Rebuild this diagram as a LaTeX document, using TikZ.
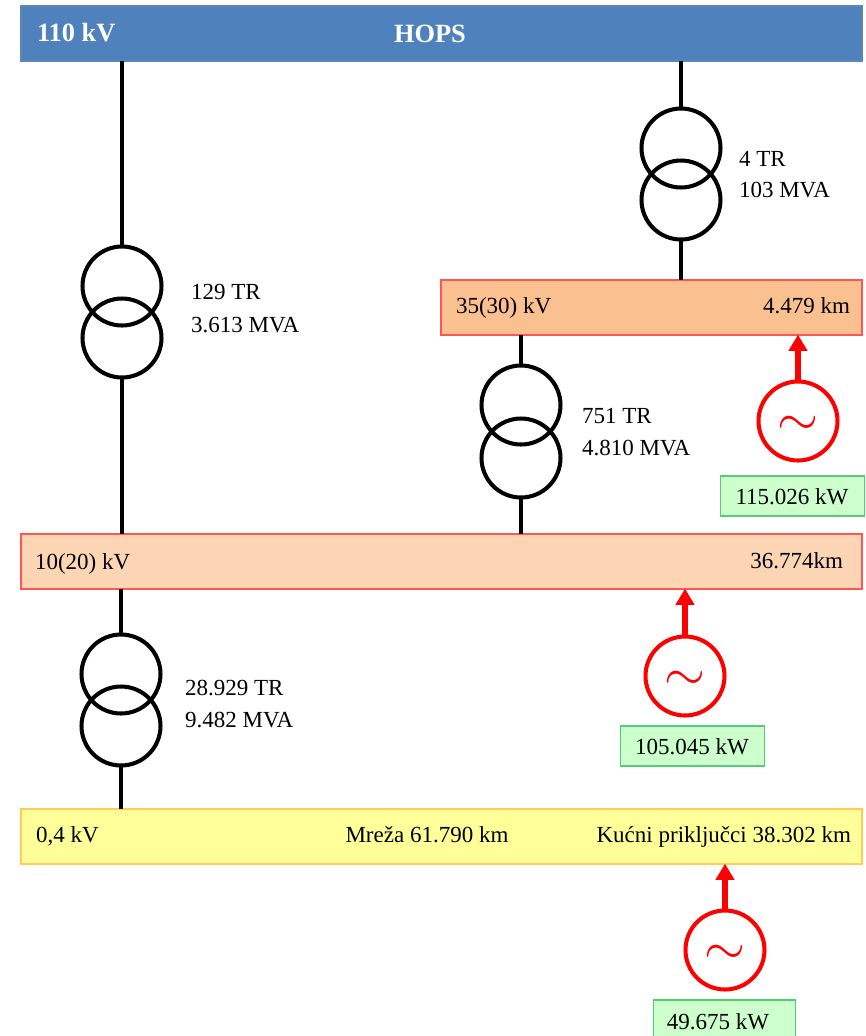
\documentclass[tikz,border=0pt]{standalone}
\usepackage{fontspec}
\setmainfont{Liberation Serif}
\usetikzlibrary{arrows.meta}
\definecolor{hopsblue}{HTML}{4F81BD}
\definecolor{hopsedge}{HTML}{5A86B8}
\definecolor{mvfill}{HTML}{FAC090}
\definecolor{lvfill}{HTML}{FCD5B5}
\definecolor{busred}{HTML}{FF5555}
\definecolor{yfill}{HTML}{FFFF99}
\definecolor{yedge}{HTML}{FFCC55}
\definecolor{gfill}{HTML}{CCFFCC}
\definecolor{gedge}{HTML}{55CC77}
\tikzset{%
	bus/.style={draw,line width=0.9pt,minimum height=1.09cm,inner sep=0,outer sep=0},
	coil/.style={circle,draw,line width=2.3pt,minimum size=1.58cm,inner sep=0,outer sep=0},
	gen/.style={circle,draw=red,line width=2.3pt,minimum size=1.58cm,inner sep=0,outer sep=0},
	sine/.style={red,scale=3,inner sep=0,outer sep=0},
	power/.style={draw=gedge,fill=gfill,line width=0.9pt,minimum height=0.81cm,inner sep=0,outer sep=0},
	lbl/.style={font=\fontsize{13.1}{13.1}\selectfont,inner sep=0,outer sep=0},
	head/.style={font=\fontsize{15}{15}\selectfont\bfseries,text=white,inner sep=0,outer sep=0},
	wire/.style={line width=2.5pt},
	feed/.style={red,line width=3.1pt,-{Triangle[length=0.32cm,width=0.36cm]}}
}

\begin{document}
\begin{tikzpicture}[x=0.02cm,y=-0.02cm]
		\useasboundingbox (0,0) rectangle (866,1036);
		\clip (0,0) rectangle (866,1036);

		% busbars
		\node [bus,draw=hopsedge,fill=hopsblue,minimum width=16.82cm] (hops) at (441.5,33.5) {};
		\node [bus,draw=busred,fill=mvfill,minimum width=8.42cm] (bus35) at (651.5,307.5) {};
		\node [bus,draw=busred,fill=lvfill,minimum width=16.82cm] (bus10) at (441.5,561.5) {};
		\node [bus,draw=yedge,fill=yfill,minimum width=16.82cm] (bus04) at (441.5,836.5) {};

		% transformers
		\node [coil] (tr1a) at (122,286) {};
		\node [coil] (tr1b) at (122,338) {};
		\node [coil] (tr2a) at (681,148) {};
		\node [coil] (tr2b) at (681,200) {};
		\node [coil] (tr3a) at (521,405) {};
		\node [coil] (tr3b) at (521,458) {};
		\node [coil] (tr4a) at (121,674) {};
		\node [coil] (tr4b) at (121,726) {};

		\draw [wire] (hops.south -| tr1a.north)--(tr1a.north);
		\draw [wire] (tr1b.south)--(bus10.north -| tr1b.south);
		\draw [wire] (hops.south -| tr2a.north)--(tr2a.north);
		\draw [wire] (tr2b.south)--(bus35.north -| tr2b.south);
		\draw [wire] (bus35.south -| tr3a.north)--(tr3a.north);
		\draw [wire] (tr3b.south)--(bus10.north -| tr3b.south);
		\draw [wire] (bus10.south -| tr4a.north)--(tr4a.north);
		\draw [wire] (tr4b.south)--(bus04.north -| tr4b.south);

		% generators
		\node [gen] (gen1) at (798,421) {};
		\node [gen] (gen2) at (685,676) {};
		\node [gen] (gen3) at (725,950) {};
		\node [sine] (sin1) at (798,426) {$\sim$};
		\node [sine] (sin2) at (685,681) {$\sim$};
		\node [sine] (sin3) at (725,955) {$\sim$};

		\draw [feed] (gen1.north)--(bus35.south -| gen1.north);
		\draw [feed] (gen2.north)--(bus10.south -| gen2.north);
		\draw [feed] (gen3.north)--(bus04.south -| gen3.north);

		\node [power,minimum width=2.88cm] (pw1) at (792.5,496) {};
		\node [power,minimum width=2.88cm] (pw2) at (692.5,746) {};
		\node [power,minimum width=2.84cm] (pw3) at (724.5,1020) {};

		% texts
		\node [head,anchor=base west] (t110) at (37,41) {110 kV};
		\node [head,anchor=base] (thops) at (430,42) {HOPS};
		\node [lbl,anchor=base west] (t35) at (456,313) {35(30) kV};
		\node [lbl,anchor=base east] (t35km) at (850,313) {4.479 km};
		\node [lbl,anchor=base west] (t10) at (35,569) {10(20) kV};
		\node [lbl,anchor=base east] (t10km) at (843,568) {36.774km};
		\node [lbl,anchor=base west] (t04) at (36,842) {0,4 kV};
		\node [lbl,anchor=base] (t04a) at (427,842) {Mreža 61.790 km};
		\node [lbl,anchor=base east] (t04b) at (851,842) {Kućni priključci 38.302 km};

		\node [lbl,anchor=base west] (l1a) at (191,299) {129 TR};
		\node [lbl,anchor=base west] (l1b) at (191,332) {3.613 MVA};
		\node [lbl,anchor=base west] (l2a) at (739,166) {4 TR};
		\node [lbl,anchor=base west] (l2b) at (739,197) {103 MVA};
		\node [lbl,anchor=base west] (l3a) at (582,423) {751 TR};
		\node [lbl,anchor=base west] (l3b) at (582,455) {4.810 MVA};
		\node [lbl,anchor=base west] (l4a) at (185,695) {28.929 TR};
		\node [lbl,anchor=base west] (l4b) at (185,727) {9.482 MVA};

		\node [lbl,anchor=base] (p1) at (792,504) {115.026 kW};
		\node [lbl,anchor=base] (p2) at (692,754) {105.045 kW};
		\node [lbl,anchor=base] (p3) at (718,1029) {49.675 kW};
	\end{tikzpicture}
\end{document}
